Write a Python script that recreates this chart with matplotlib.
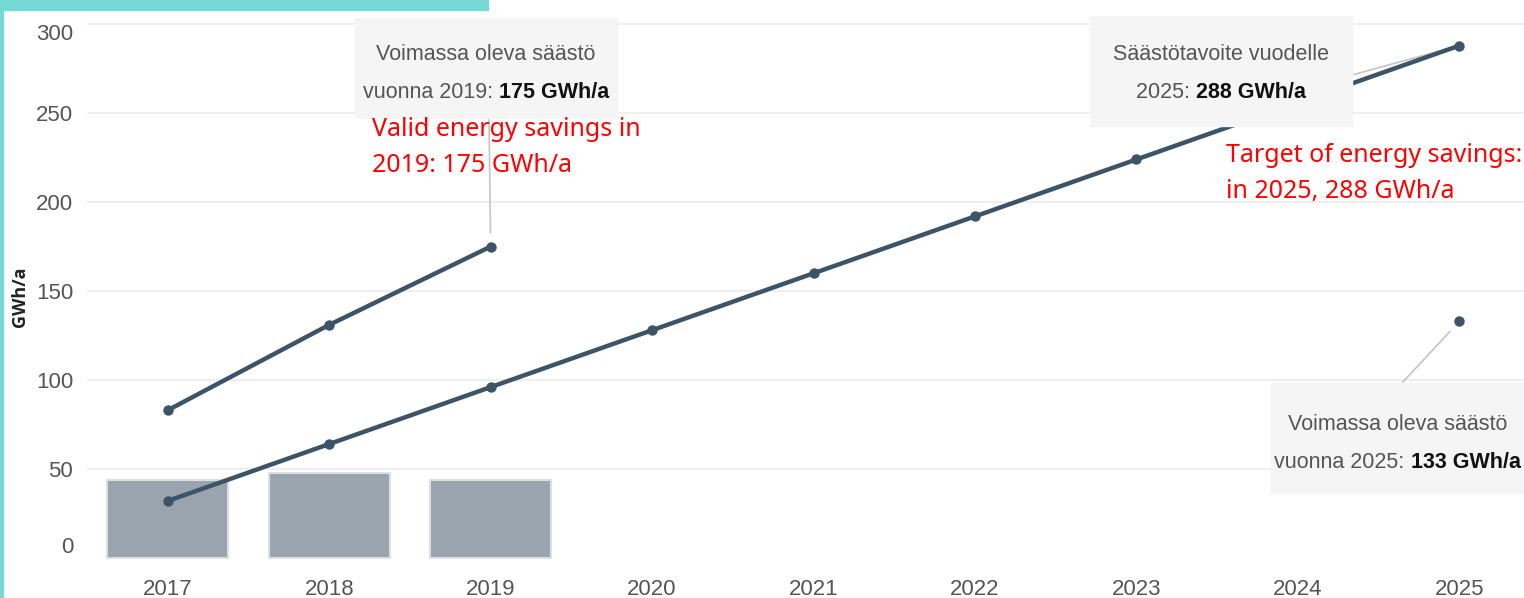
import matplotlib.pyplot as plt
from matplotlib.patches import Rectangle

years = ["2017", "2018", "2019", "2020", "2021", "2022", "2023", "2024", "2025"]
valid_years = ["2017", "2018", "2019"]
valid_savings = [83, 131, 175]
target_savings = [32, 64, 96, 128, 160, 192, 224, 256, 288]
annual_years = ["2017", "2018", "2019"]
annual_savings = [44, 48, 44]
valid_2025 = 133

W, H = 1524, 598
NARROW = ["Liberation Sans", "DejaVu Sans"]
LINE = "#3d5366"
GREY_TXT = "#555555"

fig = plt.figure(figsize=(W / 100, H / 100), dpi=100)
ax = fig.add_axes([87 / W, (H - 565) / H, 1 - 87 / W, (565 - 10) / H])

xi = {y: i for i, y in enumerate(years)}

ax.bar([xi[y] for y in annual_years], annual_savings, width=0.75,
       color="#9aa4ae", edgecolor="#dcdfe2", linewidth=1.5, zorder=2)
ax.plot([xi[y] for y in valid_years], valid_savings, color=LINE, lw=3.2,
        marker="o", ms=6.5, zorder=4)
ax.plot([xi[y] for y in years], target_savings, color=LINE, lw=3.2,
        marker="o", ms=6.5, zorder=4)
ax.plot([xi["2025"]], [valid_2025], color=LINE, marker="o", ms=6.5, zorder=4)

ax.set_xlim(-0.5, 8.4)
ax.set_ylim(-4, 308)
ax.set_xticks(range(len(years)))
ax.set_xticklabels(years)
ax.set_yticks([0, 50, 100, 150, 200, 250, 300])
for y in [50, 100, 150, 200, 250, 300]:
    ax.axhline(y, color="#ebebeb", lw=1.2, zorder=0)
for s in ax.spines.values():
    s.set_visible(False)
ax.tick_params(length=0, labelsize=16, colors=GREY_TXT, pad=10)
for lab in ax.get_xticklabels() + ax.get_yticklabels():
    lab.set_family(NARROW)
ylabs = ax.get_yticklabels()
ylabs[0].set_va("bottom")
ylabs[-1].set_va("top")
fig.text(20 / W, 1 - 297 / H, "GWh/a", rotation=90, ha="center", va="center",
         fontsize=13, fontweight="bold", color="#222222", family="Open Sans")

# cyan frame pieces from the cropped page
fig.add_artist(Rectangle((0, 1 - 10 / H), 488 / W, 10 / H, transform=fig.transFigure,
                         color="#77d9d5", zorder=10))
fig.add_artist(Rectangle((0, 0), 3 / W, 1, transform=fig.transFigure,
                         color="#77d9d5", zorder=10))


def tooltip(x0, y0, x1, y1, line1, line2a, line2b, l1y, l2y):
    fig.add_artist(Rectangle((x0 / W, 1 - y1 / H), (x1 - x0) / W, (y1 - y0) / H,
                             transform=fig.transFigure, color="#f5f5f5", zorder=5))
    cx = (x0 + x1) / 2
    fig.text(cx / W, 1 - l1y / H, line1, ha="center", va="center", fontsize=15.5,
             color=GREY_TXT, family=NARROW, zorder=6)
    ta = fig.text(0, 1 - l2y / H, line2a, ha="left", va="center", fontsize=15.5,
                  color=GREY_TXT, family=NARROW, zorder=6)
    tb = fig.text(0, 1 - l2y / H, line2b, ha="left", va="center", fontsize=15.5,
                  color="#111111", family=NARROW, fontweight="bold", zorder=6)
    r = fig.canvas.get_renderer()
    wa = ta.get_window_extent(r).width
    wb = tb.get_window_extent(r).width
    start = cx - (wa + wb) / 2
    ta.set_x(start / W)
    tb.set_x((start + wa) / W)


tooltip(355, 18, 617, 118, "Voimassa oleva säästö", "vuonna 2019: ", "175 GWh/a", 55, 93)
tooltip(1090, 16, 1352, 126, "Säästötavoite vuodelle", "2025: ", "288 GWh/a", 55, 92)
tooltip(1271, 383, 1524, 493, "Voimassa oleva säästö", "vuonna 2025: ", "133 GWh/a", 425, 463)

conn = dict(arrowstyle="-", color="#c4c4c4", lw=1.2, shrinkA=0, shrinkB=10)
ax.annotate("", xy=(xi["2019"], valid_savings[-1]), xytext=(489, H - 118),
            textcoords="figure pixels", arrowprops=conn, zorder=3)
ax.annotate("", xy=(xi["2025"], target_savings[-1]), xytext=(1352, H - 75),
            textcoords="figure pixels", arrowprops=conn, zorder=3)
ax.annotate("", xy=(xi["2025"], valid_2025), xytext=(1402, H - 383),
            textcoords="figure pixels", arrowprops=conn, zorder=3)

fig.text(372 / W, 1 - 117 / H, "Valid energy savings in\n2019: 175 GWh/a", ha="left",
         va="top", fontsize=18, color="#ff0000", family="Noto Sans", linespacing=1.6,
         zorder=7)
fig.text(1226 / W, 1 - 143 / H, "Target of energy savings:\nin 2025, 288 GWh/a", ha="left",
         va="top", fontsize=18, color="#ff0000", family="Noto Sans", linespacing=1.6,
         zorder=7)

fig.savefig("out.png", dpi=100)
